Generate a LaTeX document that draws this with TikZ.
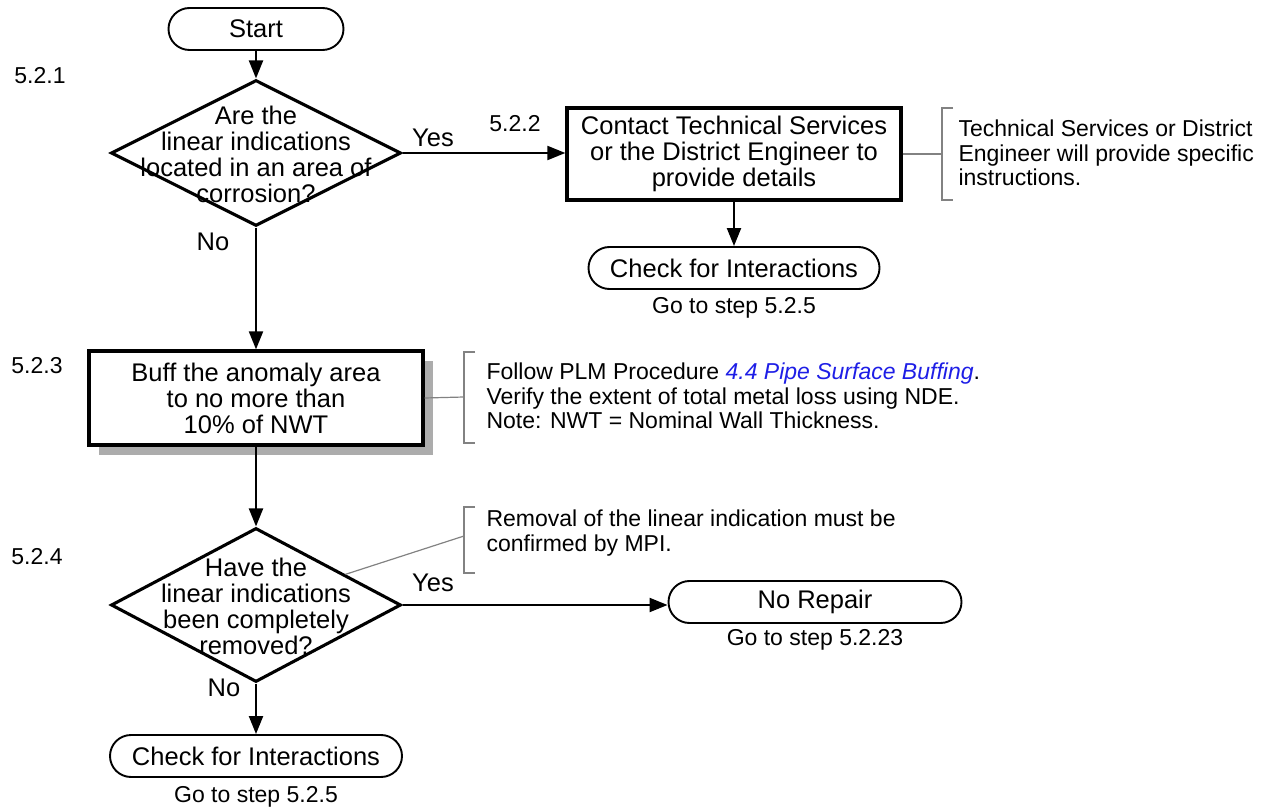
\documentclass[tikz,border=0pt]{standalone}
\usepackage{fontspec}
\setmainfont{Liberation Sans}
\usetikzlibrary{arrows.meta,shapes.geometric,shadows,calc}
\definecolor{linkblue}{RGB}{30,30,230}
\definecolor{brkgray}{RGB}{130,130,130}
\begin{document}
\begin{tikzpicture}[x=1pt,y=-1pt,
  main/.style={font=\fontsize{25.5}{26}\selectfont, align=center},
  small/.style={font=\fontsize{23}{24.5}\selectfont},
  term/.style={draw, line width=1.9pt, rounded corners=21pt, minimum height=42pt, inner sep=0pt, main},
  proc/.style={draw, line width=3.3pt, inner sep=0pt, main, fill=white},
  decision/.style={diamond, draw, line width=3.1pt, inner sep=0pt},
  arr/.style={-{Triangle[length=18pt,width=14pt]}, line width=2.1pt},
  brk/.style={draw=brkgray, line width=1.2pt},
  note/.style={small, anchor=west, align=left},
  steplabel/.style={small},
  ans/.style={main}]
\useasboundingbox (0,0) rectangle (1267,810);

% nodes
\node[term, minimum width=175pt] (start) at (256,29) {Start};
\node[decision, minimum width=290pt, minimum height=146pt] (d1) at (256,153) {};
\node[main] (d1t) at (256,154) {Are the\\linear indications\\located in an area of\\corrosion?};
\node[proc, minimum width=334pt, minimum height=92pt] (b2) at (734,154) {Contact Technical Services\\or the District Engineer to\\provide details};
\node[term, minimum width=291pt] (t1) at (734,268) {Check for Interactions};
\node[small] (g1) at (734,308) {Go to step 5.2.5};
\node[proc, minimum width=334pt, minimum height=94pt,
      drop shadow={shadow xshift=10pt, shadow yshift=-10pt, fill=gray!65, opacity=1}] (b3) at (256,398) {Buff the anomaly area\\to no more than\\10\% of NWT};
\node[decision, minimum width=290pt, minimum height=154pt] (d2) at (256,605) {};
\node[main] (d2t) at (256,606) {Have the\\linear indications\\been completely\\removed?};
\node[term, minimum width=293pt] (nr) at (815,602) {No Repair};
\node[small] (g2) at (815,640) {Go to step 5.2.23};
\node[term, minimum width=292pt] (t2) at (256,756) {Check for Interactions};
\node[small] (g3) at (256,797) {Go to step 5.2.5};

% step labels
\node[steplabel] (s1) at (40,76) {5.2.1};
\node[steplabel] (s2) at (515,124) {5.2.2};
\node[steplabel] (s3) at (37,366) {5.2.3};
\node[steplabel] (s4) at (37,557) {5.2.4};

% connectors
\draw[arr] (start) -- (d1.north);
\draw[arr] (d1.east) -- (d1.east -| b2.west);
\node[ans] (y1) at (433,138) {Yes};
\draw[arr] (d1.south) -- (b3.north);
\node[ans] (n1) at (213,242) {No};
\draw[arr] (b2) -- (t1);
\draw[arr] (b3.south) -- (d2.north);
\draw[arr] (d2.east) -- (d2.east -| nr.west);
\node[ans] (y2) at (433,583) {Yes};
\draw[arr] (d2.south) -- (t2.north);
\node[ans] (n2) at (224,688) {No};

% annotations
\coordinate (k1) at (942,154);
\draw[brk] (b2.east) -- (k1);
\draw[brk] (953,108) -- (942,108) -- (942,200) -- (953,200);
\node[note] (a1) at (955,153) {Technical Services or District\\Engineer will provide specific\\instructions.};

\coordinate (k2) at (464,397);
\draw[brk] (b3.east) -- (k2);
\draw[brk] (475,352) -- (464,352) -- (464,443) -- (475,443);
\node[note] (a2) at (483,396) {Follow PLM Procedure {\color{linkblue}\itshape 4.4 Pipe Surface Buffing}.\\Verify the extent of total metal loss using NDE.\\Note: NWT = Nominal Wall Thickness.};

\coordinate (k3) at (464,536);
\draw[brk] ($(d2.north)!0.61!(d2.east)$) -- (k3);
\draw[brk] (475,507) -- (464,507) -- (464,573) -- (475,573);
\node[note] (a3) at (483,533) {Removal of the linear indication must be\\confirmed by MPI.};
\end{tikzpicture}
\end{document}
